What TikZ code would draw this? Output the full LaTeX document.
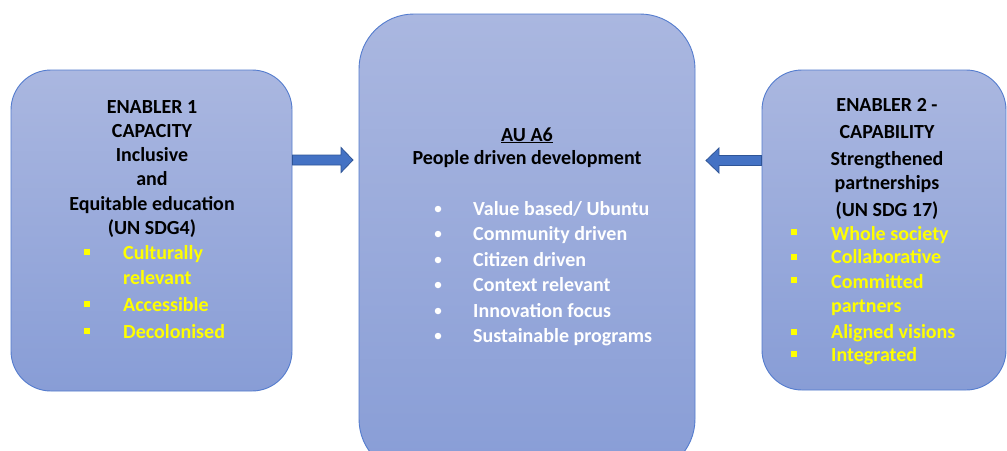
\documentclass[tikz,border=0pt]{standalone}
\usepackage{fontspec}
\setmainfont{Carlito}
\usetikzlibrary{calc}
\begin{document}
\begin{tikzpicture}[x=1pt,y=-1pt,
  box/.style={draw=boxedge, line width=0.9pt, top color=boxtop, bottom color=boxbot, inner sep=0pt},
  txt/.style={inner sep=0pt, font=\fontsize{20}{24}\selectfont\bfseries},
  head/.style={txt, anchor=base, text=black},
  yitem/.style={txt, anchor=base west, text=yel},
  witem/.style={txt, anchor=base west, text=white},
  sqb/.style={fill=yel, inner sep=0pt, minimum size=5.5pt},
  rdb/.style={circle, fill=white, inner sep=0pt, minimum size=6.5pt},
  barrow/.style={fill=arrfill, draw=arredge, line width=0.8pt, line join=miter}
]
\definecolor{boxedge}{RGB}{84,124,206}
\definecolor{boxtop}{RGB}{170,183,224}
\definecolor{boxbot}{RGB}{136,157,214}
\definecolor{yel}{RGB}{255,255,0}
\definecolor{arrfill}{RGB}{68,114,196}
\definecolor{arredge}{RGB}{47,85,151}
\useasboundingbox (0,0) rectangle (1007,450);
\clip (0,0) rectangle (1007,450);
\fill[white] (0,0) rectangle (1007,450);

% boxes
\node[box, rounded corners=40pt, minimum width=281pt, minimum height=321pt] (lbox) at (151.5,230.5) {};
\node[box, rounded corners=55pt, minimum width=336pt, minimum height=460pt] (cbox) at (527,244) {};
\node[box, rounded corners=40pt, minimum width=244pt, minimum height=320pt] (rbox) at (884,230) {};

% arrows
\coordinate (a1s) at (lbox.east |- 0,160);
\coordinate (a1e) at (353,160);
\draw[barrow] ($(a1s)+(0,-5)$) -- ($(a1e)+(-12,-5)$) -- ($(a1e)+(-12,-12.5)$) -- (a1e)
  -- ($(a1e)+(-12,12.5)$) -- ($(a1e)+(-12,5)$) -- ($(a1s)+(0,5)$) -- cycle;
\coordinate (a2s) at (rbox.west |- 0,160.5);
\coordinate (a2e) at (706,160.5);
\draw[barrow] ($(a2s)+(0,-5)$) -- ($(a2e)+(13,-5)$) -- ($(a2e)+(13,-12.5)$) -- (a2e)
  -- ($(a2e)+(13,12.5)$) -- ($(a2e)+(13,5)$) -- ($(a2s)+(0,5)$) -- cycle;

% left box text
\node[head] (l1) at (152,113) {ENABLER 1};
\node[head] (l2) at (152,137) {CAPACITY};
\node[head] (l3) at (152,161) {Inclusive};
\node[head] (l4) at (152,185) {and};
\node[head] (l5) at (152,210) {Equitable education};
\node[head] (l6) at (152,234) {(UN SDG4)};
\node[yitem] (l7) at (123,259) {Culturally};
\node[yitem] (l8) at (123,284) {relevant};
\node[yitem] (l9) at (123,311) {Accessible};
\node[yitem] (l10) at (123,338) {Decolonised};
\node[sqb] (lb1) at (87,252) {};
\node[sqb] (lb2) at (87,304) {};
\node[sqb] (lb3) at (87,331) {};

% center box text
\node[head] (c1) at (527,141) {\underline{AU A6}};
\node[head] (c2) at (527,164) {People driven development};
\node[witem] (c3) at (473,215) {Value based/ Ubuntu};
\node[witem] (c4) at (473,240) {Community driven};
\node[witem] (c5) at (473,266) {Citizen driven};
\node[witem] (c6) at (473,291) {Context relevant};
\node[witem] (c7) at (473,317) {Innovation focus};
\node[witem] (c8) at (473,342) {Sustainable programs};
\node[rdb] (cb1) at (438,209) {};
\node[rdb] (cb2) at (438,234) {};
\node[rdb] (cb3) at (438,260) {};
\node[rdb] (cb4) at (438,285) {};
\node[rdb] (cb5) at (438,311) {};
\node[rdb] (cb6) at (438,336) {};

% right box text
\node[head] (r1) at (887,111) {ENABLER 2 -};
\node[head] (r2) at (887,138) {CAPABILITY};
\node[head] (r3) at (887,165) {Strengthened};
\node[head] (r4) at (887,189) {partnerships};
\node[head] (r5) at (887,216) {(UN SDG 17)};
\node[yitem] (r6) at (831,240) {Whole society};
\node[yitem] (r7) at (831,263) {Collaborative};
\node[yitem] (r8) at (831,288) {Committed};
\node[yitem] (r9) at (831,312) {partners};
\node[yitem] (r10) at (831,338) {Aligned visions};
\node[yitem] (r11) at (831,361) {Integrated};
\node[sqb] (rb1) at (794,232) {};
\node[sqb] (rb2) at (794,257) {};
\node[sqb] (rb3) at (794,280) {};
\node[sqb] (rb4) at (794,332) {};
\node[sqb] (rb5) at (794,354) {};
\end{tikzpicture}
\end{document}
